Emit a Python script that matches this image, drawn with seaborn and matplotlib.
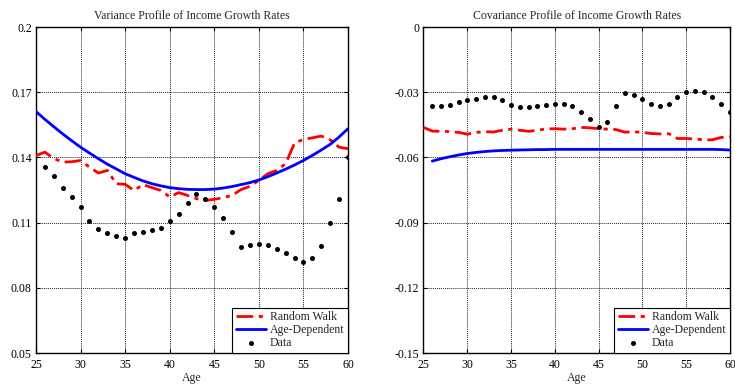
import numpy as np
import pandas as pd
import matplotlib
matplotlib.use("Agg")
import matplotlib.pyplot as plt
import seaborn as sns

# ---------------- data ----------------
ages_line = list(range(25, 61))
ages_data = list(range(26, 61))
cov_age_ages = list(range(26, 61))

var_rw = [0.1409, 0.1424, 0.1395, 0.1378, 0.1380, 0.1386, 0.1355, 0.1328, 0.1340, 0.1279,
          0.1276, 0.1248, 0.1275, 0.1261, 0.1248, 0.1218, 0.1238, 0.1225, 0.1210, 0.1202,
          0.1207, 0.1215, 0.1225, 0.1252, 0.1267, 0.1294, 0.1325, 0.1340, 0.1371, 0.1466,
          0.1483, 0.1490, 0.1498, 0.1481, 0.1447, 0.1440]
var_age = [0.1611, 0.1575, 0.1541, 0.1508, 0.1477, 0.1447, 0.1420, 0.1394, 0.1369, 0.1347,
           0.1325, 0.1308, 0.1292, 0.1279, 0.1269, 0.1261, 0.1256, 0.1253, 0.1252, 0.1252,
           0.1254, 0.1259, 0.1266, 0.1275, 0.1284, 0.1296, 0.1311, 0.1328, 0.1346, 0.1365,
           0.1386, 0.1409, 0.1434, 0.1460, 0.1494, 0.1532]
var_data = [0.1354, 0.1316, 0.1260, 0.1218, 0.1172, 0.1109, 0.1072, 0.1050, 0.1037, 0.1031,
            0.1050, 0.1059, 0.1066, 0.1077, 0.1109, 0.1138, 0.1189, 0.1233, 0.1210, 0.1170,
            0.1123, 0.1057, 0.0990, 0.0999, 0.1002, 0.0999, 0.0980, 0.0960, 0.0937, 0.0920,
            0.0939, 0.0994, 0.1096, 0.1210, 0.1403]

cov_rw = [-0.0462, -0.0479, -0.0480, -0.0481, -0.0485, -0.0493, -0.0485, -0.0482, -0.0483, -0.0475,
          -0.0470, -0.0475, -0.0480, -0.0475, -0.0469, -0.0468, -0.0470, -0.0468, -0.0462, -0.0464,
          -0.0468, -0.0470, -0.0472, -0.0484, -0.0482, -0.0485, -0.0490, -0.0492, -0.0491, -0.0513,
          -0.0513, -0.0515, -0.0519, -0.0519, -0.0508, -0.0505]
cov_age = [-0.0617, -0.0606, -0.0597, -0.0589, -0.0582, -0.0577, -0.0573, -0.0570, -0.0568,
           -0.0567, -0.0566, -0.0565, -0.0564, -0.0564, -0.0563, -0.0563, -0.0563, -0.0563,
           -0.0563, -0.0563, -0.0563, -0.0563, -0.0563, -0.0563, -0.0563, -0.0563, -0.0563,
           -0.0563, -0.0563, -0.0563, -0.0563, -0.0563, -0.0563, -0.0564, -0.0566]
cov_data = [-0.0363, -0.0363, -0.0357, -0.0347, -0.0337, -0.0329, -0.0321, -0.0321, -0.0338, -0.0358,
            -0.0370, -0.0367, -0.0363, -0.0357, -0.0355, -0.0352, -0.0364, -0.0392, -0.0424, -0.0462,
            -0.0435, -0.0363, -0.0305, -0.0312, -0.0329, -0.0354, -0.0363, -0.0354, -0.0323, -0.0297,
            -0.0294, -0.0299, -0.0320, -0.0352, -0.0389]

titles = ["Variance Profile of Income Growth Rates", "Covariance Profile of Income Growth Rates"]
xticks = [25, 30, 35, 40, 45, 50, 55, 60]
var_yticks = [0.05, 0.08, 0.11, 0.14, 0.17, 0.2]
var_ylabels = ["0.05", "0.08", "0.11", "0.14", "0.17", "0.2"]
cov_yticks = [-0.15, -0.12, -0.09, -0.06, -0.03, 0]
cov_ylabels = ["-0.15", "-0.12", "-0.09", "-0.06", "-0.03", "0"]
legend_labels = ["Random Walk", "Age-Dependent", "Data"]

# ---------------- style ----------------
sns.set_theme(style="ticks")
plt.rcParams["font.family"] = ["Liberation Serif", "DejaVu Serif"]
plt.rcParams["axes.linewidth"] = 1.0

FS = 8.5
fig = plt.figure(figsize=(7.35, 3.85), dpi=100)
W, H = 735, 385
ax1 = fig.add_axes([36 / W, 1 - 353 / H, 312 / W, 326 / H])
ax2 = fig.add_axes([423.5 / W, 1 - 353 / H, 306.5 / W, 326 / H])

def draw(ax, ages_rw, rw, ages_ad, ad, ages_d, d, title, yt, yl, ylim):
    sns.lineplot(x=ages_rw, y=rw, ax=ax, color="#ff0000", linewidth=2.0,
                 label=legend_labels[0], zorder=3, dashes=False)
    ax.lines[-1].set_dashes([6, 2, 1.5, 2])
    sns.lineplot(x=ages_ad, y=ad, ax=ax, color="#0000ff", linestyle="-", linewidth=2.0,
                 label=legend_labels[1], zorder=3)
    sns.scatterplot(x=ages_d, y=d, ax=ax, color="black", s=13, edgecolor="black",
                    linewidth=0, label=legend_labels[2], zorder=4)
    ax.set_xlim(25, 60)
    ax.set_ylim(*ylim)
    ax.set_xticks(xticks)
    ax.set_xticklabels([str(t) for t in xticks])
    ax.set_yticks(yt)
    ax.set_yticklabels(yl)
    ax.grid(True, color="#222222", linestyle=(0, (1, 1)), linewidth=0.7)
    ax.tick_params(direction="in", length=3, width=0.8, top=True, right=True,
                   labelsize=FS, colors="black")
    ax.tick_params(axis="x", pad=4)
    ax.tick_params(axis="y", pad=3)
    ax.set_title(title, fontsize=FS, pad=6)
    ax.set_xlabel("Age", fontsize=FS, labelpad=1)
    ax.set_ylabel("")
    for s in ax.spines.values():
        s.set_visible(True)
        s.set_color("black")
    leg = ax.legend(loc="lower right", fontsize=FS, frameon=True, fancybox=False,
                    edgecolor="black", framealpha=1, borderpad=0.3, labelspacing=0.1,
                    handlelength=2.6, handletextpad=0.3, borderaxespad=0.0)
    leg.get_frame().set_linewidth(0.8)
    leg.get_lines()[0].set_dashes([6, 2, 1.5, 2])

draw(ax1, ages_line, var_rw, ages_line, var_age, ages_data, var_data,
     titles[0], var_yticks, var_ylabels, (0.05, 0.2))
draw(ax2, ages_line, cov_rw, cov_age_ages, cov_age, ages_data, cov_data,
     titles[1], cov_yticks, cov_ylabels, (-0.15, 0))

fig.savefig("out.png", dpi=100)
